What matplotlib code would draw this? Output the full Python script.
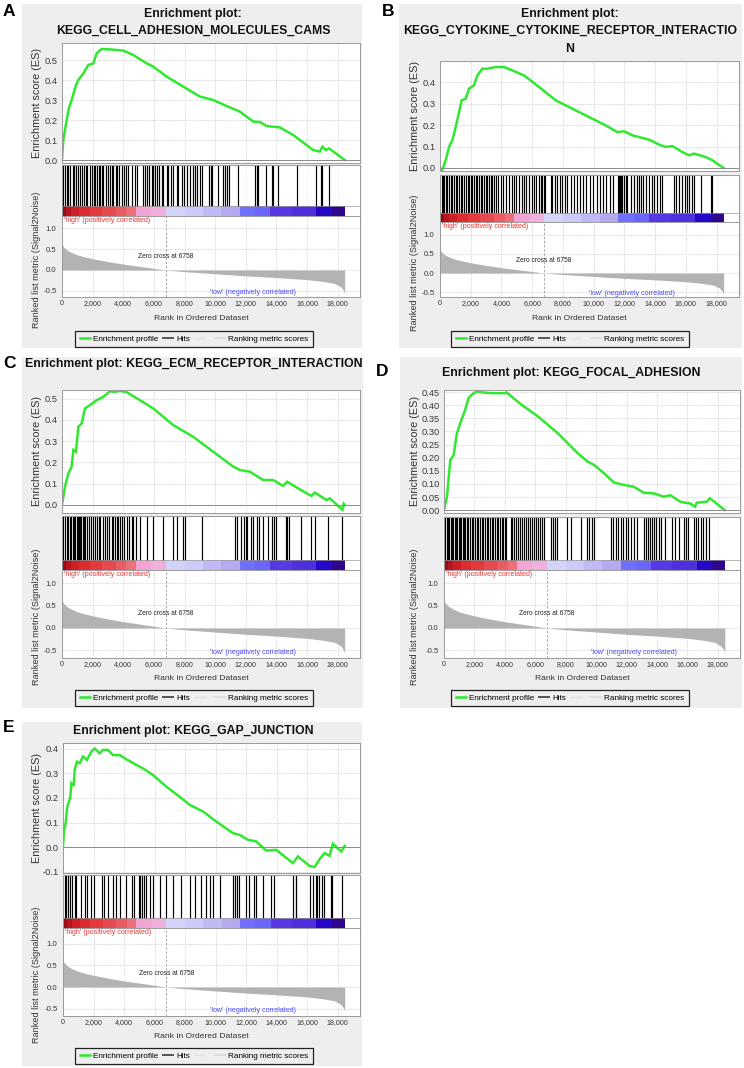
import matplotlib
matplotlib.use("Agg")
import matplotlib.pyplot as plt
from matplotlib.lines import Line2D
from matplotlib.patches import Rectangle
from matplotlib.ticker import FuncFormatter

plt.rcParams['font.family'] = ['Liberation Sans', 'DejaVu Sans']

W, H = 744, 1068
N_GENES = 18450
ZERO_CROSS = 6758
X_MAX = 19450
X_TICKS = [0, 2000, 4000, 6000, 8000, 10000, 12000, 14000, 16000, 18000]

# ranked list metric (same list in every panel)
metric_rank = [0, 100, 300, 600, 1000, 1500, 2000, 3000, 4000, 5000, 6000, 6758,
               8000, 10000, 12000, 14000, 16000, 17000, 17800, 18200, 18400, 18450]
metric_value = [0.62, 0.55, 0.48, 0.42, 0.36, 0.31, 0.27, 0.20, 0.14, 0.09, 0.04, 0.0,
                -0.04, -0.09, -0.14, -0.18, -0.23, -0.27, -0.32, -0.40, -0.50, -0.58]

# heat bar under the hits
bar_edges = [0, 250, 600, 1100, 1800, 2600, 3500, 4200, 4800, 5800, 6758, 8000, 9200,
             10400, 11600, 12600, 13600, 15000, 16600, 17600, 18450]
bar_colors = ['#9c0a16', '#b81420', '#cc2026', '#dc2c30', '#e43a3e', '#e54a50', '#e85c62',
              '#ec7078', '#f2a4d4', '#f0b0dc', '#d4d4fa', '#cccaf8', '#c0baf4', '#b4aaf2',
              '#7070fc', '#6a66fa', '#5838e4', '#5030dc', '#2606c8', '#30068e']

# A: cell adhesion molecules
es_a_rank = [0, 87, 304, 450, 630, 913, 1065, 1391, 1717, 2043, 2261, 2587, 3130, 4000,
             4652, 5522, 5957, 6826, 7913, 9000, 9870, 10740, 11610, 12480, 12913, 13348,
             14217, 15087, 15522, 16391, 16826, 17000, 17217, 17435, 18450]
es_a_score = [0, 0.10, 0.20, 0.26, 0.30, 0.375, 0.40, 0.433, 0.475, 0.483, 0.533, 0.555,
              0.553, 0.547, 0.525, 0.483, 0.467, 0.417, 0.367, 0.317, 0.30, 0.27, 0.242,
              0.192, 0.19, 0.17, 0.163, 0.125, 0.10, 0.05, 0.042, 0.067, 0.05, 0.058, 0.0]
hits_a = [87, 196, 304, 413, 522, 696, 783, 913, 1065, 1174, 1283, 1435, 1565, 1652, 1826,
          1935, 2087, 2174, 2261, 2391, 2478, 2587, 2696, 2870, 3022, 3130, 3239, 3348,
          3522, 3609, 3739, 3891, 4043, 4174, 4326, 4544, 4761, 4913, 5261, 5413, 5522,
          5696, 5848, 5957, 6065, 6174, 6348, 6500, 6609, 6826, 6935, 7087, 7261, 7478,
          7587, 7805, 7957, 8131, 8348, 8522, 8674, 8783, 9000, 9109, 9609, 9696, 9783,
          10196, 10478, 10630, 10783, 10913, 11500, 12587, 12696, 12805, 13305, 13674,
          13783, 14109, 15348, 16565, 16935, 17000, 17435]

# B: cytokine-cytokine receptor interaction
es_b_rank = [0, 150, 370, 585, 800, 1020, 1190, 1410, 1670, 1887, 2212, 2430, 2754, 3080,
             3622, 4164, 4706, 5465, 6441, 7525, 8610, 9694, 10778, 11537, 11971, 12513,
             12947, 13597, 14248, 14682, 15116, 15767, 16200, 16525, 17284, 17718, 18450]
es_b_score = [0, -0.01, 0.036, 0.098, 0.129, 0.19, 0.245, 0.315, 0.322, 0.369, 0.385,
              0.431, 0.462, 0.462, 0.47, 0.47, 0.454, 0.431, 0.377, 0.315, 0.276, 0.237,
              0.198, 0.167, 0.171, 0.152, 0.144, 0.132, 0.109, 0.098, 0.102, 0.074, 0.059,
              0.067, 0.051, 0.036, 0.0]
hits_b = [108, 195, 282, 369, 477, 586, 716, 803, 889, 1019, 1128, 1236, 1345, 1453, 1562,
          1670, 1800, 1887, 2017, 2104, 2212, 2321, 2429, 2538, 2646, 2755, 2863, 2972,
          3080, 3188, 3297, 3405, 3535, 3666, 3796, 3948, 4099, 4273, 4490, 4663, 4815,
          4967, 5141, 5314, 5466, 5618, 5791, 5965, 6117, 6268, 6442, 6550, 6659, 6767,
          6832, 7201, 7310, 7483, 7635, 7787, 7960, 8134, 8286, 8502, 8719, 8936, 9088,
          9305, 9522, 9739, 9956, 10216, 10389, 10606, 10823, 11083, 11257, 11582, 11647,
          11691, 11778, 11865, 11973, 12081, 12190, 12407, 12624, 12841, 12949, 13057,
          13209, 13426, 13600, 13773, 13925, 14142, 14294, 14468, 15227, 15379, 15552,
          15769, 15942, 16094, 16203, 16376, 16528, 16962, 17612, 17721]

# C: ECM receptor interaction
es_c_rank = [0, 196, 413, 630, 740, 913, 1065, 1283, 1500, 1826, 2261, 2696, 3130, 3457,
             3783, 4217, 5087, 5957, 7261, 8565, 9870, 11174, 11609, 12261, 13130, 13783,
             14435, 14696, 15522, 16283, 16500, 17261, 17478, 18304, 18391, 18450]
es_c_score = [0, 0.086, 0.148, 0.18, 0.258, 0.25, 0.367, 0.383, 0.453, 0.469, 0.492, 0.508,
              0.534, 0.531, 0.536, 0.53, 0.492, 0.453, 0.375, 0.32, 0.25, 0.18, 0.164,
              0.156, 0.117, 0.117, 0.089, 0.109, 0.073, 0.042, 0.058, 0.023, 0.031, -0.023,
              0.005, 0.0]
hits_c = [87, 196, 304, 413, 522, 587, 696, 783, 870, 957, 1022, 1109, 1174, 1261, 1348,
          1435, 1522, 1652, 1783, 1870, 2000, 2152, 2261, 2391, 2478, 2652, 2804, 2957,
          3087, 3239, 3348, 3457, 3565, 3674, 3783, 3891, 4043, 4217, 4391, 4544, 4652,
          4826, 5087, 5522, 5957, 6609, 7261, 7478, 7870, 8022, 9109, 11283, 11435, 11652,
          11870, 12000, 12087, 12305, 12478, 12696, 12870, 13130, 13457, 13674, 13826,
          14000, 14609, 14696, 14826, 15631, 16283, 16500, 17370, 18305]

# D: focal adhesion
es_d_rank = [0, 196, 413, 630, 848, 1065, 1391, 1609, 1826, 2152, 2478, 3130, 4000, 4109,
             5087, 6174, 7478, 8783, 9435, 9870, 10522, 11174, 11826, 12478, 13130, 13783,
             14435, 14870, 15522, 16174, 16500, 16609, 17261, 17478, 18450]
es_d_score = [0, 0.051, 0.191, 0.21, 0.293, 0.331, 0.382, 0.427, 0.44, 0.453, 0.449, 0.446,
              0.446, 0.449, 0.402, 0.357, 0.293, 0.217, 0.185, 0.172, 0.14, 0.105, 0.096,
              0.089, 0.066, 0.064, 0.051, 0.057, 0.032, 0.025, 0.013, 0.028, 0.032, 0.045,
              0.0]
hits_d = [87, 174, 261, 348, 435, 522, 609, 696, 783, 870, 957, 1044, 1130, 1217, 1304,
          1391, 1500, 1609, 1717, 1826, 1935, 2044, 2174, 2261, 2391, 2478, 2587, 2696,
          2804, 2913, 3022, 3130, 3239, 3348, 3457, 3565, 3674, 3783, 3891, 4000, 4087,
          4391, 4478, 4609, 4739, 4870, 5000, 5131, 5261, 5391, 5522, 5652, 5783, 5913,
          6044, 6174, 6305, 6435, 6565, 7000, 7152, 7305, 7435, 8087, 8348, 9000, 9391,
          9544, 9696, 9870, 11000, 11131, 11283, 11435, 11652, 11783, 11935, 12087, 12261,
          12478, 12652, 13131, 13261, 13391, 13522, 13674, 13783, 13957, 14109, 14261,
          14544, 14979, 15196, 15413, 15739, 15913, 16065, 16435, 16565, 16717, 16870,
          17044, 17218, 17435]

# E: gap junction
es_e_rank = [0, 65, 175, 262, 393, 480, 545, 698, 764, 916, 1091, 1309, 1571, 1855, 2073,
             2400, 2618, 2945, 3273, 3709, 4145, 4800, 5236, 5891, 6764, 7636, 8291, 9164,
             10036, 11127, 11564, 12109, 12655, 13309, 13964, 15055, 15382, 16145, 16473,
             16800, 17127, 17455, 17673, 18218, 18450]
es_e_score = [0, 0.07, 0.097, 0.158, 0.185, 0.205, 0.259, 0.249, 0.314, 0.347, 0.341, 0.368,
              0.354, 0.388, 0.401, 0.381, 0.395, 0.395, 0.374, 0.374, 0.357, 0.334, 0.32,
              0.293, 0.246, 0.205, 0.172, 0.145, 0.104, 0.057, 0.05, 0.03, 0.023, -0.014,
              -0.011, -0.065, -0.038, -0.076, -0.081, -0.049, -0.024, -0.035, 0.014,
              -0.018, 0.005]
hits_e = [109, 218, 327, 436, 611, 764, 873, 1200, 1418, 1571, 1855, 2007, 2575, 2662,
          2946, 3273, 3491, 3709, 4102, 4539, 4626, 4975, 5062, 5193, 5280, 5411, 5673,
          5891, 6328, 6764, 7201, 7746, 8292, 8619, 9055, 9383, 9601, 9819, 10255, 11128,
          11237, 11390, 11521, 12001, 12176, 12481, 12612, 13092, 13638, 13790, 15056,
          15230, 15274, 16190, 16365, 16540, 16627, 16758, 16976, 17063, 17565, 17631,
          18285]

panels = [
    dict(letter='A', title=['Enrichment plot:', 'KEGG_CELL_ADHESION_MOLECULES_CAMS'],
         es_rank=es_a_rank, es_score=es_a_score, hits=hits_a,
         es_ticks=[0.0, 0.1, 0.2, 0.3, 0.4, 0.5], es_fmt='{:.1f}'),
    dict(letter='B', title=['Enrichment plot:', 'KEGG_CYTOKINE_CYTOKINE_RECEPTOR_INTERACTIO', 'N'],
         es_rank=es_b_rank, es_score=es_b_score, hits=hits_b,
         es_ticks=[0.0, 0.1, 0.2, 0.3, 0.4], es_fmt='{:.1f}'),
    dict(letter='C', title=['Enrichment plot: KEGG_ECM_RECEPTOR_INTERACTION'],
         es_rank=es_c_rank, es_score=es_c_score, hits=hits_c,
         es_ticks=[0.0, 0.1, 0.2, 0.3, 0.4, 0.5], es_fmt='{:.1f}'),
    dict(letter='D', title=['Enrichment plot: KEGG_FOCAL_ADHESION'],
         es_rank=es_d_rank, es_score=es_d_score, hits=hits_d,
         es_ticks=[0.0, 0.05, 0.1, 0.15, 0.2, 0.25, 0.3, 0.35, 0.4, 0.45], es_fmt='{:.2f}'),
    dict(letter='E', title=['Enrichment plot: KEGG_GAP_JUNCTION'],
         es_rank=es_e_rank, es_score=es_e_score, hits=hits_e,
         es_ticks=[-0.1, 0.0, 0.1, 0.2, 0.3, 0.4], es_fmt='{:.1f}'),
]

# pixel layout of every panel (left, top, right, bottom in the 744x1068 picture)
layout = [
    dict(bg=(22, 4, 362, 348), letter=(9, 12), title_x=193, title_y=[14, 31],
         x=(62, 360), es=(43, 163), es_ylim=(-0.015, 0.585), hits=(165, 216), bar_top=206,
         rank=(216, 297), rank_ylim=(-0.643, 1.286), ylab_x=37, legend=(194, 339)),
    dict(bg=(399, 4, 742, 348), letter=(388, 12), title_x=570, title_y=[14, 31, 49],
         x=(440, 739), es=(61, 171), es_ylim=(-0.014, 0.498), hits=(175, 222), bar_top=213,
         rank=(222, 297), rank_ylim=(-0.63, 1.34), ylab_x=415, legend=(570, 339)),
    dict(bg=(22, 357, 363, 708), letter=(9, 364), title_x=194, title_y=[364],
         x=(62, 360), es=(390, 513), es_ylim=(-0.038, 0.54), hits=(516, 570), bar_top=560,
         rank=(570, 658), rank_ylim=(-0.667, 1.289), ylab_x=37, legend=(194, 698)),
    dict(bg=(400, 357, 742, 708), letter=(382, 372), title_x=571, title_y=[373],
         x=(444, 740), es=(390, 513), es_ylim=(-0.011, 0.458), hits=(517, 570), bar_top=560,
         rank=(570, 658), rank_ylim=(-0.667, 1.289), ylab_x=415, legend=(570, 698)),
    dict(bg=(22, 722, 362, 1066), letter=(9, 728), title_x=193, title_y=[731],
         x=(63, 360), es=(743, 873), es_ylim=(-0.105, 0.423), hits=(875, 928), bar_top=918,
         rank=(928, 1016), rank_ylim=(-0.668, 1.36), ylab_x=37, legend=(194, 1056)),
]

GREEN = '#30e830'
SPINE = '#9a9a9a'
GRID = '#cfcfcf'


def rect(l, t, r, b):
    return [l / W, 1 - b / H, (r - l) / W, (b - t) / H]


def fx(x):
    return x / W


def fy(y):
    return 1 - y / H


def style_axes(ax):
    for s in ax.spines.values():
        s.set_color(SPINE)
        s.set_linewidth(0.7)
    ax.set_xlim(0, X_MAX)
    ax.set_xticks(X_TICKS)
    ax.tick_params(length=0, colors='#3a3a3a')


fig = plt.figure(figsize=(W / 100, H / 100), dpi=100)
fig.patch.set_facecolor('white')

for p, lay in zip(panels, layout):
    l, t, r, b = lay['bg']
    fig.add_artist(Rectangle((fx(l), fy(b)), (r - l) / W, (b - t) / H,
                             transform=fig.transFigure, facecolor='#eeeeee',
                             edgecolor='none', zorder=-5))
    fig.text(fx(lay['letter'][0]), fy(lay['letter'][1]), p['letter'], ha='center',
             va='center', fontsize=12.5, fontweight='bold')
    for line, ty in zip(p['title'], lay['title_y']):
        fig.text(fx(lay['title_x']), fy(ty), line, ha='center', va='center',
                 fontsize=8.8, fontweight='bold', color='#111111')

    x0, x1 = lay['x']

    # enrichment score
    ax_es = fig.add_axes(rect(x0, lay['es'][0], x1, lay['es'][1]))
    style_axes(ax_es)
    ax_es.plot(p['es_rank'], p['es_score'], color=GREEN, lw=1.8, solid_joinstyle='miter')
    ax_es.axhline(0, color='#8a8a8a', lw=0.7)
    ax_es.set_ylim(*lay['es_ylim'])
    ax_es.set_yticks(p['es_ticks'])
    ax_es.set_yticklabels([p['es_fmt'].format(v) for v in p['es_ticks']])
    ax_es.tick_params(axis='y', labelsize=6.7, pad=3)
    ax_es.tick_params(axis='x', labelbottom=False)
    ax_es.grid(True, color=GRID, ls=(0, (1.5, 1.5)), lw=0.6)
    ax_es.set_axisbelow(True)

    # hits + heat bar
    ax_hit = fig.add_axes(rect(x0, lay['hits'][0], x1, lay['hits'][1]))
    style_axes(ax_hit)
    bar_frac = (lay['hits'][1] - lay['bar_top']) / (lay['hits'][1] - lay['hits'][0])
    ax_hit.set_ylim(0, 1)
    ax_hit.set_yticks([])
    ax_hit.tick_params(axis='x', labelbottom=False)
    ax_hit.grid(True, axis='x', color='#e4e4e4', ls=(0, (1.5, 1.5)), lw=0.5)
    ax_hit.set_axisbelow(True)
    for left, right, c in zip(bar_edges[:-1], bar_edges[1:], bar_colors):
        ax_hit.axvspan(left, right, ymin=0, ymax=bar_frac, color=c, lw=0)
    ax_hit.vlines(p['hits'], bar_frac, 1, color='#000000', lw=0.85)
    ax_hit.axhline(bar_frac, color=SPINE, lw=0.5)

    # ranked list metric
    ax_rk = fig.add_axes(rect(x0, lay['rank'][0], x1, lay['rank'][1]))
    style_axes(ax_rk)
    ax_rk.fill_between(metric_rank, 0, metric_value, color='#b3b3b3', lw=0)
    ax_rk.set_ylim(*lay['rank_ylim'])
    ax_rk.set_yticks([-0.5, 0.0, 0.5, 1.0])
    ax_rk.set_yticklabels(['-0.5', '0.0', '0.5', '1.0'])
    ax_rk.xaxis.set_major_formatter(FuncFormatter(lambda v, pos: f'{int(v):,}'))
    ax_rk.tick_params(axis='y', labelsize=5.6, pad=4)
    ax_rk.tick_params(axis='x', labelsize=5.1, pad=2.5, colors='#333333')
    ax_rk.grid(True, color=GRID, ls=(0, (1.5, 1.5)), lw=0.6)
    ax_rk.set_axisbelow(True)
    ax_rk.axvline(ZERO_CROSS, color='#9a9a9a', ls=(0, (3, 2)), lw=0.6)
    ax_rk.text(ZERO_CROSS, 0.32, f'Zero cross at {ZERO_CROSS}', ha='center', va='center',
               fontsize=4.8, color='#222222')
    ax_rk.text(120, 1.0 - 1.0 / (lay['rank'][1] - lay['rank'][0]),
               "'high' (positively correlated)", transform=ax_rk.get_xaxis_transform(),
               ha='left', va='top', fontsize=5.1, color='#ee3333')
    ax_rk.text(12460, -0.54, "'low' (negatively correlated)", ha='center', va='center',
               fontsize=5.1, color='#4a4aff')

    # axis titles
    es_mid = (lay['es'][0] + lay['es'][1]) / 2
    rk_mid = (lay['rank'][0] + lay['rank'][1]) / 2 + 3
    fig.text(fx(lay['ylab_x']), fy(es_mid), 'Enrichment score (ES)', rotation=90,
             ha='center', va='center', fontsize=7.8, color='#333333')
    fig.text(fx(lay['ylab_x']), fy(rk_mid), 'Ranked list metric (Signal2Noise)', rotation=90,
             ha='center', va='center', fontsize=6.6, color='#333333')
    fig.text(fx((x0 + x1) / 2 - 10), fy(lay['rank'][1] + 21), 'Rank in Ordered Dataset',
             ha='center', va='center', fontsize=6.1, color='#333333')

    handles = [Line2D([], [], color=GREEN, lw=1.8),
               Line2D([], [], color='#555555', lw=1.4),
               Line2D([], [], color='#e2e2e2', lw=1.0),
               Line2D([], [], color='#dddddd', lw=1.4)]
    labels = ['Enrichment profile', 'Hits', ' ', 'Ranking metric scores']
    leg = fig.legend(handles, labels, loc='center',
                     bbox_to_anchor=(fx(lay['legend'][0]), fy(lay['legend'][1])),
                     ncol=4, fontsize=5.9, frameon=True, fancybox=False, edgecolor='#222222',
                     facecolor='#eeeeee', framealpha=1, handlelength=1.3, handletextpad=0.35,
                     columnspacing=0.55, borderpad=0.5, borderaxespad=0)
    leg.get_frame().set_linewidth(0.9)

fig.savefig('out.png', dpi=100)
